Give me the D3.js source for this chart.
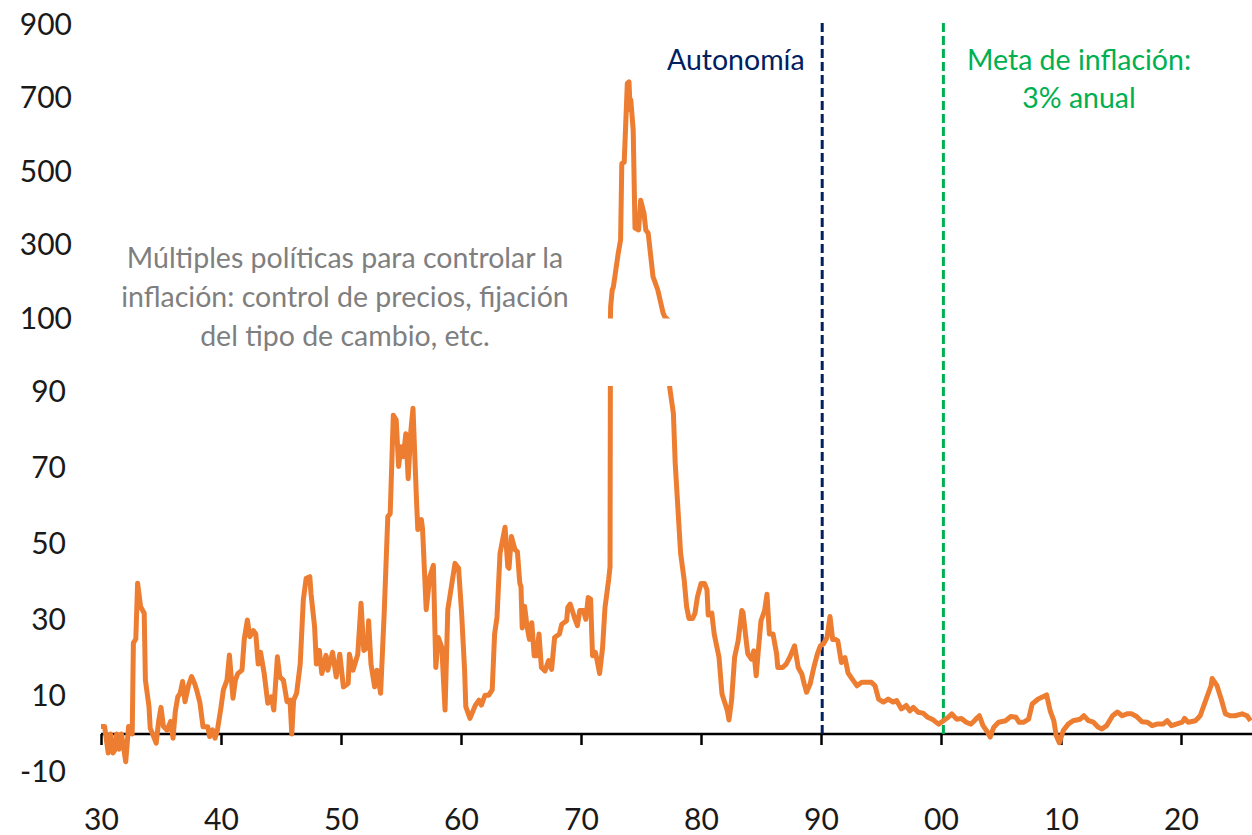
<!DOCTYPE html>
<html>
<head>
<meta charset="utf-8">
<script src="https://cdn.jsdelivr.net/npm/d3@7"></script>
<style>
  body { margin: 0; background: #fff; }
  svg text { font-family: Lato, "Open Sans", sans-serif; }
</style>
</head>
<body>
<div id="chart"></div>
<script>
// 12-month CPI inflation, Chile (%)
const years = [
  1930.0, 1930.3, 1930.6, 1930.8, 1931.0, 1931.2, 1931.3, 1931.5, 1931.7, 1931.9, 1932.06, 1932.3, 1932.6, 1932.7, 1932.9,
  1933.05, 1933.3, 1933.6, 1933.7, 1934.0, 1934.1, 1934.3, 1934.6, 1934.8, 1935.0, 1935.2, 1935.5, 1935.8, 1936.0, 1936.2,
  1936.4, 1936.6, 1936.8, 1937.0, 1937.3, 1937.55, 1937.8, 1937.97, 1938.25, 1938.5, 1938.9, 1939.05, 1939.3, 1939.5, 1939.7,
  1940.0, 1940.2, 1940.5, 1940.7, 1941.0, 1941.2, 1941.4, 1941.75, 1941.94, 1942.2, 1942.4, 1942.7, 1942.9, 1943.1, 1943.3,
  1943.6, 1943.9, 1944.2, 1944.4, 1944.7, 1944.9, 1945.2, 1945.5, 1945.75, 1945.9, 1946.05, 1946.3, 1946.6, 1946.86, 1947.1,
  1947.4, 1947.5, 1947.8, 1947.95, 1948.2, 1948.4, 1948.75, 1948.9, 1949.3, 1949.6, 1949.9,
  1950.2, 1950.6, 1950.7, 1951.0, 1951.4, 1951.67, 1951.9, 1952.2, 1952.3, 1952.5, 1952.8, 1953.0, 1953.3, 1953.6, 1953.9,
  1954.1, 1954.36, 1954.6, 1954.8, 1955.0, 1955.2, 1955.4, 1955.6, 1955.8, 1956.0, 1956.3, 1956.4, 1956.7, 1956.8, 1957.1,
  1957.4, 1957.7, 1957.9, 1958.1, 1958.4, 1958.67, 1958.9, 1959.2, 1959.5, 1959.8,
  1960.05, 1960.3, 1960.4, 1960.75, 1961.2, 1961.5, 1961.7, 1962.0, 1962.3, 1962.6, 1962.8, 1963.0, 1963.25, 1963.67, 1963.9,
  1964.0, 1964.2, 1964.5, 1964.7, 1964.9, 1965.0, 1965.1, 1965.3, 1965.5, 1965.7, 1965.9, 1966.1, 1966.3, 1966.5, 1966.7,
  1967.0, 1967.3, 1967.55, 1967.8, 1968.2, 1968.4, 1968.8, 1968.9, 1969.1, 1969.5, 1969.7, 1969.9,
  1970.2, 1970.4, 1970.6, 1970.8, 1970.96, 1971.2, 1971.4, 1971.55, 1971.8, 1972.0, 1972.3, 1972.42, 1972.47, 1972.6, 1972.7,
  1973.1, 1973.3, 1973.4, 1973.6, 1973.86, 1974.0, 1974.1, 1974.15, 1974.35, 1974.5, 1974.8, 1974.97, 1975.25, 1975.4, 1975.6,
  1976.0, 1976.4, 1976.85, 1977.0, 1977.4, 1977.7, 1977.85, 1978.1, 1978.3, 1978.6, 1978.8, 1979.0, 1979.3, 1979.5, 1979.7,
  1980.0, 1980.3, 1980.5, 1980.6, 1980.9, 1981.1, 1981.5, 1981.75, 1982.2, 1982.33, 1982.55, 1982.8, 1983.1, 1983.4, 1983.5,
  1983.8, 1983.9, 1984.2, 1984.4, 1984.6, 1984.8, 1985.0, 1985.3, 1985.5, 1985.7, 1986.0, 1986.3, 1986.4, 1986.8, 1987.1,
  1987.4, 1987.8, 1988.1, 1988.4, 1988.6, 1988.8, 1989.1, 1989.4, 1989.7, 1989.95,
  1990.2, 1990.5, 1990.75, 1990.97, 1991.2, 1991.4, 1991.7, 1992.0, 1992.25, 1992.5, 1993.0, 1993.4, 1993.8, 1994.2, 1994.5,
  1994.8, 1995.2, 1995.6, 1996.0, 1996.3, 1996.7, 1997.1, 1997.4, 1997.7, 1998.1, 1998.5, 1998.9, 1999.3, 1999.8,
  2000.2, 2000.6, 2000.9, 2001.3, 2001.7, 2002.1, 2002.5, 2002.9, 2003.2, 2003.5, 2003.9, 2004.1, 2004.4, 2004.8, 2005.4,
  2005.8, 2006.25, 2006.5, 2006.9, 2007.3, 2007.6, 2008.1, 2008.5, 2008.8, 2009.1, 2009.4, 2009.6, 2009.86,
  2010.2, 2010.6, 2011.0, 2011.6, 2011.9, 2012.3, 2012.7, 2013.1, 2013.4, 2013.8, 2014.3, 2014.7, 2015.1, 2015.5, 2015.9,
  2016.3, 2016.75, 2017.2, 2017.6, 2018.0, 2018.5, 2018.85, 2019.2, 2019.6,
  2020.1, 2020.3, 2020.6, 2021.2, 2021.6, 2022.0, 2022.5, 2022.6, 2023.0, 2023.35, 2023.7, 2024.1, 2024.5, 2025.1, 2025.5, 2025.8
];

const inflation = [
  2, 2, -5, 0, -5, -4, 0, -4, 0, -4, -7.3, 2, 0, 24, 25,
  39.7, 33.5, 31.8, 14.2, 7.2, 1.5, 0, -2.4, 3.3, 7, 2, 1, 3.3, -1.1, 6.1,
  9.8, 10.7, 13.8, 8.5, 12.9, 15.1, 13.3, 11.6, 8.1, 1.9, 1.9, -0.7, 1.1, -1.1, 1,
  7, 11.6, 14.2, 20.8, 9.4, 14.2, 15.9, 16.8, 25, 30, 25.6, 27.2, 26.3, 18.4, 21.5,
  15.9, 8.1, 9.8, 6.3, 20.3, 15, 14.2, 8.5, 8.9, 0, 8.9, 10.7, 18.4, 35.3, 41,
  41.4, 37, 28.2, 18.4, 22, 15.9, 20.7, 16.8, 21.5, 15, 21,
  12.4, 13.3, 21, 16.8, 21, 34.4, 22, 22.8, 29.8, 18.4, 12.4, 16.8, 10.7, 31.8, 57.2,
  58, 83.9, 82.6, 70.4, 75.6, 73, 79, 67.2, 79, 85.7, 60.8, 53.8, 56.4, 53.8, 32.7,
  41.4, 44.4, 17.5, 25.4, 22.8, 6.3, 32.7, 38.8, 44.9, 43.6,
  31.8, 16.8, 7.2, 4.1, 7.6, 8.9, 7.6, 10.2, 10.2, 11.6, 26.3, 30.7, 47.5, 54.4, 44,
  43.6, 52, 48.5, 48, 39.7, 38.8, 27.9, 33.6, 28.4, 24.9, 29.3, 20.6, 20.6, 26.3, 17.5,
  16.6, 19.3, 17, 25.4, 26.3, 28.9, 29.8, 33.3, 34.2, 30.2, 28.5, 32.5,
  32.5, 30.2, 35.9, 35.5, 20.6, 21.5, 18.4, 15.9, 22.8, 33.3, 40.5, 44, 132, 177.6, 186,
  277, 314, 522, 525, 740, 744, 667, 695, 613, 346, 341, 422, 386, 341, 332,
  214, 177.6, 114, 104, 91, 84.4, 71.3, 58.1, 47.6, 40.5, 33.5, 30.4, 30.4, 31.8, 36,
  39.6, 39.6, 37.9, 31.3, 31.8, 26.3, 20.2, 10.5, 6.1, 3.7, 8.9, 20.2, 24.6, 32.5, 32,
  23.7, 21.1, 19.7, 21.9, 15.3, 22.8, 29.8, 32.5, 36.8, 26.3, 26.3, 21.1, 17.5, 17.5, 18.4,
  20.2, 23.2, 17.5, 15.8, 13.2, 11, 13.2, 17.5, 21.1, 23.2,
  23.7, 25.4, 30.9, 24.9, 24.9, 24.5, 18.8, 20.1, 16.1, 14.9, 12.7, 13.6, 13.6, 13.6, 12.7,
  9.2, 8.4, 9.2, 8.4, 8.8, 6.6, 7.5, 6.1, 7.0, 5.7, 5.5, 4.4, 3.8, 2.6,
  3.5, 4.4, 5.3, 3.9, 4.1, 3.1, 2.6, 3.9, 4.8, 2.2, 0.4, -0.8, 1.8, 3.1, 3.5,
  4.6, 4.4, 3.1, 3.1, 3.9, 7.9, 9.2, 9.8, 10.3, 6.1, 3.5, -0.4, -2.3,
  1.0, 2.6, 3.5, 3.9, 4.8, 3.5, 3.1, 1.8, 1.3, 2.2, 4.8, 5.8, 4.8, 5.3, 5.3,
  4.6, 3.2, 3.1, 2.2, 2.6, 2.6, 3.5, 2.2, 2.6,
  3.1, 4.1, 3.1, 3.5, 4.8, 8.3, 12.7, 14.6, 12.7, 9.2, 5.3, 4.8, 4.8, 5.3, 4.8, 3.5
];

const xTicks = [1930, 1940, 1950, 1960, 1970, 1980, 1990, 2000, 2010, 2020];
const upperTicks = [900, 700, 500, 300, 100];
const lowerTicks = [90, 70, 50, 30, 10, -10];
const events = [
  {year: 1990.1, label: ["Autonomía"], color: "#002060", textX: 1982.9},
  {year: 2000.2, label: ["Meta de inflación:", "3% anual"], color: "#00B050", textX: 2011.5}
];
const note = ["Múltiples políticas para controlar la", "inflación: control de precios, fijación", "del tipo de cambio, etc."];

const W = 1252, H = 835;
const data = years.map((y, i) => ({year: y, value: inflation[i]}));

const svg = d3.select("#chart").append("svg")
    .attr("width", W)
    .attr("height", H);

const x = d3.scaleLinear().domain([1930, 2026]).range([101, 1253]);
// broken axis: lower panel up to ~91, upper panel from 100
const yLow = d3.scaleLinear().domain([0, 90]).range([734, 392]);
const yUp = d3.scaleLinear().domain([100, 900]).range([318.5, 24.5]);

const defs = svg.append("defs");
defs.append("clipPath").attr("id", "clipLow")
    .append("rect").attr("x", 0).attr("y", 386).attr("width", W).attr("height", H - 386);
defs.append("clipPath").attr("id", "clipUp")
    .append("rect").attr("x", 0).attr("y", 0).attr("width", W).attr("height", yUp(100));

// y labels
const yAxisUp = svg.append("g")
    .attr("transform", "translate(72,0)")
    .call(d3.axisLeft(yUp).tickValues(upperTicks).tickSize(0).tickPadding(0).tickFormat(d => String(d)))
const yAxisLow = svg.append("g")
    .attr("transform", "translate(66,0)")
    .call(d3.axisLeft(yLow).tickValues(lowerTicks).tickSize(0).tickPadding(0).tickFormat(d => String(d)))
svg.selectAll(".domain").remove()

// x axis
const xAxis = svg.append("g")
    .attr("transform", `translate(0, ${yLow(0)})`)
    .call(d3.axisBottom(x).tickValues(xTicks).tickSize(11).tickPadding(64)
        .tickFormat(d => String(d % 100).padStart(2, "0")))
xAxis.select(".domain")
    .attr("d", `M${x(1930)},0H${W}`)
    .attr("stroke", "#000")
    .attr("stroke-width", 2.5)
xAxis.selectAll(".tick line").attr("stroke", "#000").attr("stroke-width", 2.5)

svg.selectAll(".tick text")
    .attr("fill", "#1a1a1a")
    .style("font-size", "30px")
    .style("font-family", "Lato, sans-serif")

// vertical event lines
svg.selectAll("line.event")
    .data(events)
    .enter()
    .append("line")
        .classed("event", true)
        .attr("x1", d => x(d.year))
        .attr("x2", d => x(d.year))
        .attr("y1", 23)
        .attr("y2", yLow(0))
        .attr("stroke", d => d.color)
        .attr("stroke-width", 3)
        .attr("stroke-dasharray", "9,4")

events.forEach(ev => {
    const t = svg.append("text")
        .attr("x", x(ev.textX))
        .attr("y", 70)
        .attr("text-anchor", "middle")
        .attr("fill", ev.color)
        .style("font-size", "28.5px")
    ev.label.forEach((s, i) => {
        t.append("tspan").attr("x", x(ev.textX)).attr("dy", i === 0 ? 0 : 38).text(s)
    })
})

const noteText = svg.append("text")
    .attr("x", 345)
    .attr("y", 268)
    .attr("text-anchor", "middle")
    .attr("fill", "#7f7f7f")
    .style("font-size", "28.5px")
note.forEach((s, i) => {
    noteText.append("tspan").attr("x", 345).attr("dy", i === 0 ? 0 : 39).text(s)
})

// the series, once per panel
const lineLow = d3.line().x(d => x(d.year)).y(d => yLow(d.value));
const lineUp = d3.line().x(d => x(d.year)).y(d => yUp(d.value));

svg.append("path")
    .datum(data)
    .attr("clip-path", "url(#clipLow)")
    .attr("fill", "none")
    .attr("stroke", "#ED7D31")
    .attr("stroke-width", 5)
    .attr("stroke-linejoin", "round")
    .attr("d", lineLow)

svg.append("path")
    .datum(data)
    .attr("clip-path", "url(#clipUp)")
    .attr("fill", "none")
    .attr("stroke", "#ED7D31")
    .attr("stroke-width", 5)
    .attr("stroke-linejoin", "round")
    .attr("d", lineUp)
</script>
</body>
</html>
